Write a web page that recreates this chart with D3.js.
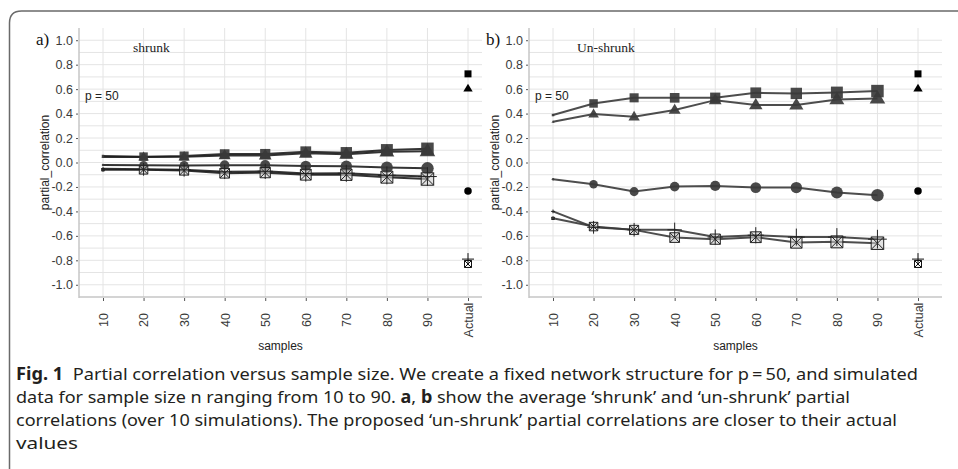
<!DOCTYPE html>
<html><head><meta charset="utf-8">
<script src="https://cdn.jsdelivr.net/npm/d3@7/dist/d3.min.js"></script>
<style>body{margin:0;background:#fff}svg{display:block}</style>
</head><body>
<svg id="chart" width="958" height="469"></svg>
<script>
// ---------- data ----------
const categories = ["10","20","30","40","50","60","70","80","90","Actual"];
const sampleCats = ["10","20","30","40","50","60","70","80","90"];
const samples = [10,20,30,40,50,60,70,80,90];
const yTickValues = [1.0,0.8,0.6,0.4,0.2,0.0,-0.2,-0.4,-0.6,-0.8,-1.0];
const yTickLabels = ["1.0","0.8","0.6","0.4","0.2","0.0","-0.2","-0.4","-0.6","-0.8","-1.0"];

// panel a: shrunk
const shrunkSquare   = [0.053, 0.048, 0.053, 0.069, 0.069, 0.088, 0.080, 0.102, 0.112];
const shrunkTriangle = [0.045, 0.044, 0.046, 0.058, 0.058, 0.075, 0.068, 0.088, 0.092];
const shrunkCircle   = [-0.020,-0.022,-0.024,-0.022,-0.022,-0.029,-0.030,-0.040,-0.048];
const shrunkBoxX     = [-0.060,-0.060,-0.066,-0.088,-0.083,-0.100,-0.100,-0.120,-0.135];
const shrunkPlus     = [-0.052,-0.056,-0.060,-0.076,-0.072,-0.090,-0.088,-0.105,-0.115];

// panel b: un-shrunk
const unshrunkSquare   = [0.388, 0.483, 0.529, 0.529, 0.530, 0.570, 0.565, 0.572, 0.584];
const unshrunkTriangle = [0.333, 0.396, 0.374, 0.430, 0.510, 0.470, 0.470, 0.516, 0.524];
const unshrunkCircle   = [-0.137,-0.178,-0.238,-0.197,-0.192,-0.205,-0.205,-0.246,-0.268];
const unshrunkBoxX     = [-0.456,-0.524,-0.551,-0.614,-0.627,-0.611,-0.654,-0.649,-0.660];
const unshrunkPlus     = [-0.400,-0.530,-0.550,-0.551,-0.610,-0.595,-0.610,-0.610,-0.627];

// actual values (square, triangle, circle, boxX, plus)
const actualValues = [0.725, 0.605, -0.233, -0.830, -0.790];

const captionLines = [
  [{t:"Fig. 1",b:true},{t:"  Partial correlation versus sample size. We create a fixed network structure for p\u2009=\u200950, and simulated"}],
  [{t:"data for sample size n ranging from 10 to 90. "},{t:"a",b:true},{t:", "},{t:"b",b:true},{t:" show the average \u2018shrunk\u2019 and \u2018un-shrunk\u2019 partial"}],
  [{t:"correlations (over 10 simulations). The proposed \u2018un-shrunk\u2019 partial correlations are closer to their actual"}],
  [{t:"values"}]
];

// ---------- drawing ----------
const svg = d3.select("#chart");
const shapes = ["square","triangle","circle","boxX","plus"];

// frame
svg.append("path")
  .attr("d","M9.5,470 V23 Q9.5,11 21.5,11 H960")
  .attr("fill","none").attr("stroke","#6a6a6a").attr("stroke-width",1.5);

const sizeScale = d3.scaleLinear().domain([10,20,90]).range([2.5,8.5,12.5]);

function markerPath(shape, s){
  if(shape==="square") return `M${-s/2},${-s/2}h${s}v${s}h${-s}Z`;
  if(shape==="triangle"){ const w=s*1.25,h=s*1.05; return `M0,${-h*0.62}L${w/2},${h*0.38}L${-w/2},${h*0.38}Z`; }
  if(shape==="circle") return d3.symbol(d3.symbolCircle, Math.PI*s*s/4)();
  if(shape==="boxX") return `M${-s/2},${-s/2}h${s}v${s}h${-s}ZM${-s/2},${-s/2}L${s/2},${s/2}M${s/2},${-s/2}L${-s/2},${s/2}`;
  if(shape==="plus"){ const a=s*0.75; return `M${-a},0H${a}M0,${-a}V${a}`; }
}

function drawPanel(cfg){
  const g = svg.append("g");
  const y = d3.scaleLinear().domain([-1.1,1.1]).range([cfg.bottom, cfg.top]);
  const x = d3.scalePoint().domain(categories).range([cfg.x0, cfg.x1]);

  // horizontal grid (every 0.1)
  const minor = y.ticks(22).filter(v => Math.abs(v) <= 1.0001);
  g.append("g").selectAll("line").data(minor).join("line")
    .attr("x1",cfg.left).attr("x2",cfg.right)
    .attr("y1",d=>y(d)).attr("y2",d=>y(d))
    .attr("stroke","#e4e4e4").attr("stroke-width",1);
  // vertical grid
  g.append("g").selectAll("line").data(categories).join("line")
    .attr("x1",d=>x(d)).attr("x2",d=>x(d))
    .attr("y1",cfg.top).attr("y2",cfg.bottom)
    .attr("stroke","#e4e4e4").attr("stroke-width",1);

  // y axis
  const yAxis = d3.axisLeft(y).tickValues(yTickValues)
    .tickFormat((d,i)=>yTickLabels[i]).tickSize(2).tickPadding(3);
  const ya = g.append("g").attr("transform",`translate(${cfg.left-1},0)`).call(yAxis);
  ya.select(".domain").remove();
  ya.selectAll(".tick line").attr("stroke","#555");
  ya.selectAll(".tick text").attr("font-family","Liberation Sans, Arial, sans-serif")
    .attr("font-size",12.5).attr("fill","#3a3a3a");
  g.append("line").attr("x1",cfg.left).attr("x2",cfg.left)
    .attr("y1",cfg.top).attr("y2",cfg.bottom+1)
    .attr("stroke","#c6c6c6").attr("stroke-width",1.5);

  // x axis
  const xAxis = d3.axisBottom(x).tickSize(3).tickPadding(0);
  const xa = g.append("g").attr("transform",`translate(0,${cfg.bottom+1})`).call(xAxis);
  xa.select(".domain").remove();
  xa.selectAll(".tick line").attr("stroke","#555");
  xa.selectAll(".tick text")
    .attr("transform","translate(0,22) rotate(-90)")
    .attr("y",0).attr("dy","0.35em").attr("x",0)
    .attr("text-anchor","middle")
    .attr("font-family","Liberation Sans, Arial, sans-serif")
    .attr("font-size",12.5).attr("fill","#3a3a3a");
  g.append("line").attr("x1",cfg.left).attr("x2",cfg.right)
    .attr("y1",cfg.bottom).attr("y2",cfg.bottom)
    .attr("stroke","#c6c6c6").attr("stroke-width",1.5);

  // labels
  g.append("text").attr("x",cfg.left-43).attr("y",45)
    .attr("font-family","Liberation Serif, Times New Roman, serif").attr("font-size",17)
    .attr("fill","#111").text(cfg.letter);
  g.append("text").attr("x",cfg.titleX).attr("y",52)
    .attr("font-family","Liberation Serif, Times New Roman, serif").attr("font-size",13.5)
    .attr("fill","#222").text(cfg.title);
  g.append("text").attr("x",cfg.left+6).attr("y",100)
    .attr("font-family","Liberation Sans, Arial, sans-serif").attr("font-size",12)
    .attr("fill","#222").text("p = 50");
  g.append("text")
    .attr("transform",`translate(${cfg.left-30},${y(0)}) rotate(-90)`)
    .attr("text-anchor","middle")
    .attr("font-family","Liberation Sans, Arial, sans-serif").attr("font-size",12)
    .attr("fill","#222").text("partial_correlation");
  g.append("text").attr("x",(cfg.left+cfg.right)/2).attr("y",350)
    .attr("text-anchor","middle")
    .attr("font-family","Liberation Sans, Arial, sans-serif").attr("font-size",12)
    .attr("fill","#222").text("samples");

  // series lines
  const line = d3.line().x((d,i)=>x(sampleCats[i])).y(d=>y(d));
  cfg.series.forEach((vals,k)=>{
    g.append("path").attr("d",line(vals)).attr("fill","none")
      .attr("stroke",cfg.lineColor).attr("stroke-width",2).attr("stroke-opacity",0.9);
  });
  // series markers
  cfg.series.forEach((vals,k)=>{
    const shape = shapes[k];
    g.append("g").selectAll("path").data(vals).join("path")
      .attr("transform",(d,i)=>`translate(${x(sampleCats[i])},${y(d)})`)
      .attr("d",(d,i)=>markerPath(shape,sizeScale(samples[i])))
      .attr("fill", shape==="plus" ? "none" : (shape==="boxX" ? "#cfcfcf" : "#3a3a3a"))
      .attr("fill-opacity", shape==="boxX" ? 0.6 : 0.92)
      .attr("stroke", (shape==="boxX"||shape==="plus") ? "#222" : "none")
      .attr("stroke-width", 1);
  });
  // actual markers
  const actualSizes = [7,7.5,7.5,7,8];
  actualValues.forEach((v,k)=>{
    const shape = shapes[k];
    g.append("path")
      .attr("transform",`translate(${x("Actual")},${y(v)})`)
      .attr("d",markerPath(shape,actualSizes[k]))
      .attr("fill", (shape==="plus"||shape==="boxX") ? "none" : "#000")
      .attr("stroke", (shape==="plus"||shape==="boxX") ? "#111" : "none")
      .attr("stroke-width",1);
  });
}

drawPanel({left:79,right:482,top:28,bottom:297,x0:103,x1:468,letter:"a)",title:"shrunk",titleX:133,
  lineColor:"#1e1e1e",
  series:[shrunkSquare,shrunkTriangle,shrunkCircle,shrunkBoxX,shrunkPlus]});
drawPanel({left:529,right:942,top:28,bottom:297,x0:553,x1:918,letter:"b)",title:"Un-shrunk",titleX:577,
  lineColor:"#3a3a3a",
  series:[unshrunkSquare,unshrunkTriangle,unshrunkCircle,unshrunkBoxX,unshrunkPlus]});

// caption
const lineEnds = [918, 850, 897, 78];
const baselines = [380, 403, 426, 449];
captionLines.forEach((parts,i)=>{
  const t = svg.append("text").attr("x",16).attr("y",baselines[i])
    .attr("font-family","Noto Sans, Open Sans, sans-serif").attr("font-size",17)
    .attr("fill","#231f20").attr("xml:space","preserve")
    .attr("textLength",lineEnds[i]-16).attr("lengthAdjust","spacingAndGlyphs");
  parts.forEach(p=>{
    t.append("tspan").attr("font-weight",p.b?"bold":null).text(p.t);
  });
});
</script>
</body></html>
